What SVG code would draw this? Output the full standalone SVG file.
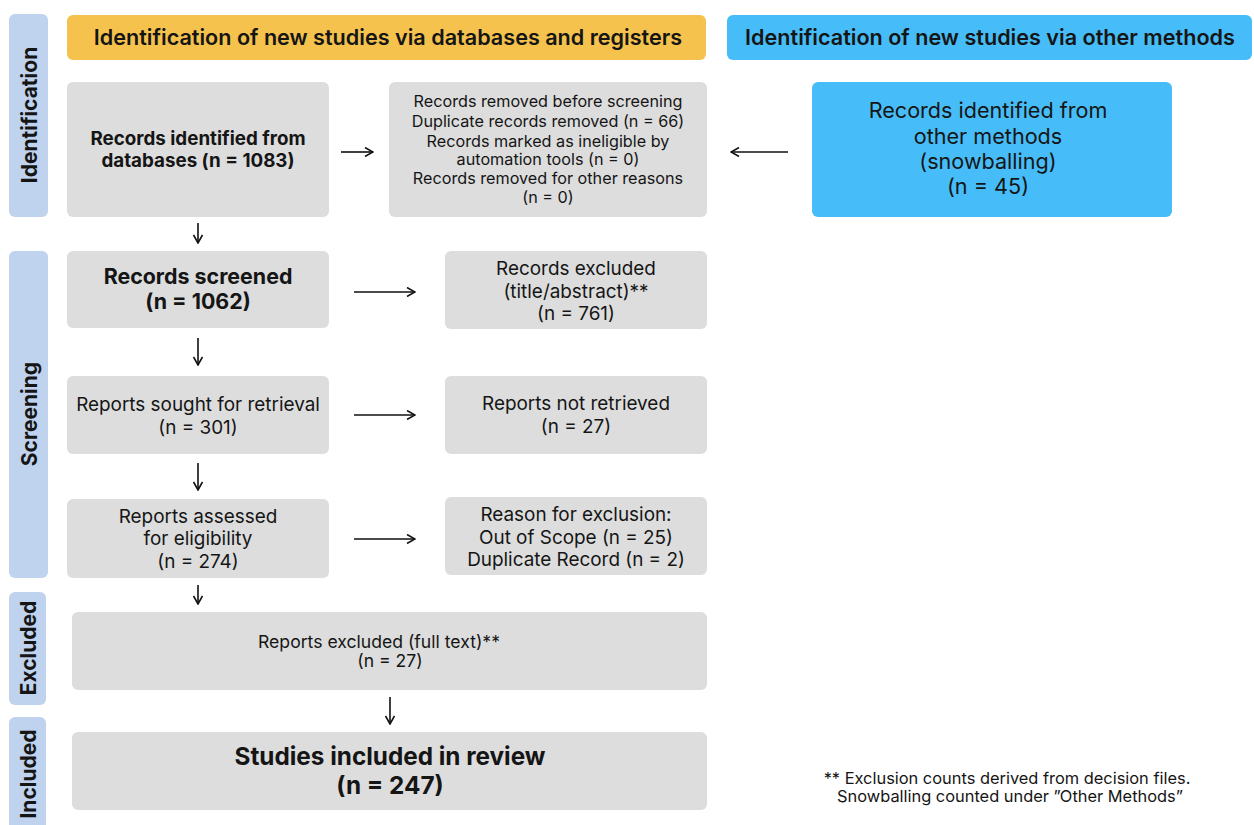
<svg xmlns="http://www.w3.org/2000/svg" width="1254" height="825" viewBox="0 0 1254 825">
<defs>
<marker id="ah" viewBox="0 0 10 10" refX="9" refY="5" markerWidth="10" markerHeight="10" markerUnits="userSpaceOnUse" orient="auto">
<path d="M1,0.5 L9,5 L1,9.5" fill="none" stroke="#111" stroke-width="1.6"/>
</marker>
<style>
.side{fill:#bfd2ee}
.gray{fill:#dddddd}
.t{font-family:Inter,"Noto Sans","Liberation Sans",sans-serif;fill:#151515;text-anchor:middle}
.sl{font-size:21px;font-weight:700}
.hd{font-size:21.6px;font-weight:600}
.b17{font-size:18.8px;font-weight:700}
.b20{font-size:21.4px;font-weight:700}
.b24{font-size:24.3px;font-weight:700}
.r15{font-size:16.2px}
.r17{font-size:18.9px}
.r16{font-size:17.6px}
.r19{font-size:21.6px}
.r13{font-size:16.4px}
.cn line{stroke:#111;stroke-width:1.6;marker-end:url(#ah)}
</style>
</defs>
<rect width="1254" height="825" fill="#ffffff"/>

<g id="label-identification">
<rect class="side" x="9" y="14" width="39" height="203" rx="6"/>
<text class="t sl" transform="translate(36.5,115) rotate(-90)">Identification</text>
</g>
<g id="label-screening">
<rect class="side" x="9" y="251" width="39" height="327" rx="6"/>
<text class="t sl" transform="translate(36.5,414) rotate(-90)">Screening</text>
</g>
<g id="label-excluded">
<rect class="side" x="9" y="592" width="37" height="113" rx="6"/>
<text class="t sl" transform="translate(35.5,648) rotate(-90)">Excluded</text>
</g>
<g id="label-included">
<rect class="side" x="9" y="717" width="37" height="120" rx="6"/>
<text class="t sl" transform="translate(35.5,774) rotate(-90)">Included</text>
</g>

<g id="header-databases">
<rect x="67" y="15" width="639" height="45" rx="6" fill="#f4c24d"/>
<text class="t hd" x="388" y="45">Identification of new studies via databases and registers</text>
</g>
<g id="header-other">
<rect x="727" y="15" width="525" height="45" rx="6" fill="#46bdf8"/>
<text class="t hd" x="990" y="45">Identification of new studies via other methods</text>
</g>

<g id="records-identified">
<rect class="gray" x="67" y="82" width="262" height="135" rx="6"/>
<text class="t b17" x="198" y="145">Records identified from</text>
<text class="t b17" x="198" y="167">databases (n = 1083)</text>
</g>
<g id="records-removed">
<rect class="gray" x="389" y="82" width="318" height="135" rx="6"/>
<text class="t r15" x="548" y="107">Records removed before screening</text>
<text class="t r15" x="548" y="127">Duplicate records removed (n = 66)</text>
<text class="t r15" x="548" y="147">Records marked as ineligible by</text>
<text class="t r15" x="548" y="165">automation tools (n = 0)</text>
<text class="t r15" x="548" y="184">Records removed for other reasons</text>
<text class="t r15" x="548" y="203">(n = 0)</text>
</g>
<g id="records-other">
<rect x="812" y="82" width="360" height="135" rx="6" fill="#46bdf8"/>
<text class="t r19" x="988" y="118">Records identified from</text>
<text class="t r19" x="988" y="144">other methods</text>
<text class="t r19" x="988" y="169">(snowballing)</text>
<text class="t r19" x="988" y="194">(n = 45)</text>
</g>

<g id="records-screened">
<rect class="gray" x="67" y="251" width="262" height="77" rx="6"/>
<text class="t b20" x="198" y="284">Records screened</text>
<text class="t b20" x="198" y="309">(n = 1062)</text>
</g>
<g id="records-excluded">
<rect class="gray" x="445" y="251" width="262" height="78" rx="6"/>
<text class="t r17" x="576" y="275">Records excluded</text>
<text class="t r17" x="576" y="298">(title/abstract)**</text>
<text class="t r17" x="576" y="320">(n = 761)</text>
</g>

<g id="reports-sought">
<rect class="gray" x="67" y="376" width="262" height="78" rx="6"/>
<text class="t r17" x="198" y="411">Reports sought for retrieval</text>
<text class="t r17" x="198" y="434">(n = 301)</text>
</g>
<g id="reports-not-retrieved">
<rect class="gray" x="445" y="376" width="262" height="78" rx="6"/>
<text class="t r17" x="576" y="410">Reports not retrieved</text>
<text class="t r17" x="576" y="433">(n = 27)</text>
</g>

<g id="reports-assessed">
<rect class="gray" x="67" y="499" width="262" height="79" rx="6"/>
<text class="t r17" x="198" y="523">Reports assessed</text>
<text class="t r17" x="198" y="545">for eligibility</text>
<text class="t r17" x="198" y="568">(n = 274)</text>
</g>
<g id="reason-exclusion">
<rect class="gray" x="445" y="497" width="262" height="78" rx="6"/>
<text class="t r17" x="576" y="521">Reason for exclusion:</text>
<text class="t r17" x="576" y="544">Out of Scope (n = 25)</text>
<text class="t r17" x="576" y="566">Duplicate Record (n = 2)</text>
</g>

<g id="reports-excluded">
<rect class="gray" x="72" y="612" width="635" height="78" rx="6"/>
<text class="t r16" x="379" y="648">Reports excluded (full text)**</text>
<text class="t r16" x="390" y="667">(n = 27)</text>
</g>
<g id="studies-included">
<rect class="gray" x="72" y="732" width="635" height="78" rx="6"/>
<text class="t b24" x="390" y="765">Studies included in review</text>
<text class="t b24" x="390" y="794">(n = 247)</text>
</g>

<g id="footnote">
<text class="t r13" x="1007" y="784">** Exclusion counts derived from decision files.</text>
<text class="t r13" x="1010" y="802">Snowballing counted under ”Other Methods”</text>
</g>

<g id="connectors" class="cn">
<line x1="341" y1="152" x2="373" y2="152"/>
<line x1="788" y1="152" x2="731" y2="152"/>
<line x1="198" y1="223" x2="198" y2="243"/>
<line x1="198" y1="338" x2="198" y2="365"/>
<line x1="198" y1="463" x2="198" y2="490"/>
<line x1="198" y1="585" x2="198" y2="604"/>
<line x1="390" y1="697" x2="390" y2="724"/>
<line x1="354" y1="292" x2="415" y2="292"/>
<line x1="354" y1="415" x2="415" y2="415"/>
<line x1="354" y1="539" x2="415" y2="539"/>
</g>
</svg>
